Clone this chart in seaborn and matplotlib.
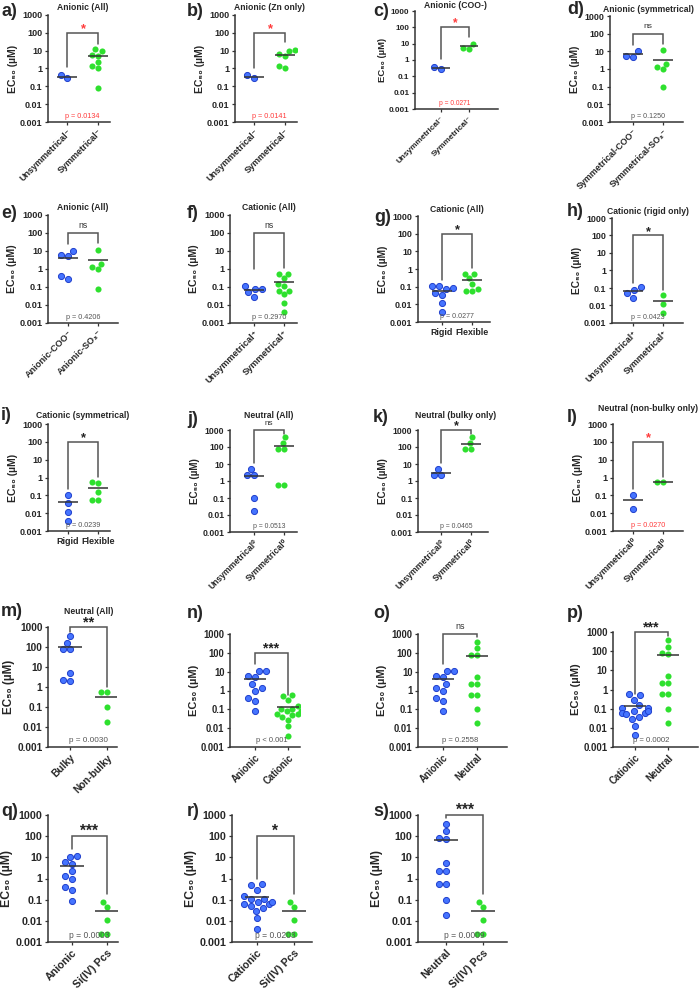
import matplotlib
matplotlib.use("Agg")
import matplotlib.pyplot as plt
import seaborn as sns
from matplotlib.ticker import NullLocator

sns.set_theme(style="ticks")
plt.rcParams["font.family"] = ["Liberation Sans", "DejaVu Sans"]

BLUE = "#4574ff"
BLUE_EDGE = "#1f3fcc"
GREEN = "#2ee02e"
RED = "#ff3b3b"
GREY = "#555555"
DARK = "#333333"

YTICKS = [0.001, 0.01, 0.1, 1, 10, 100, 1000]
YTICK_LABELS = ["0.001", "0.01", "0.1", "1", "10", "100", "1000"]

# ---- EC50 values (uM) ----
A_UNSYM = [0.44, 0.28]
A_SYM = [5.2, 5.8, 12, 10, 2.2, 1.35, 1.0, 0.085]
B_UNSYM = [0.42, 0.28]
B_SYM = [10, 6.5, 5.2, 11.5, 1.3, 1.0]
C_UNSYM = [0.39, 0.29]
C_SYM = [10, 5.1, 5.0]
D_COO = [10, 5.7, 5.0]
D_SO3 = [11.5, 2.0, 1.35, 1.0, 0.09]
E_COO = [10, 6, 5, 0.42, 0.29]
E_SO3 = [11, 2, 1.3, 1.0, 0.08]
F_UNSYM = [0.11, 0.077, 0.077, 0.05, 0.028]
F_SYM = [0.55, 0.5, 0.3, 0.15, 0.11, 0.06, 0.06, 0.039, 0.013, 0.004]
G_RIGID = [0.11, 0.11, 0.085, 0.077, 0.046, 0.035, 0.012, 0.0037]
G_FLEX = [0.5, 0.55, 0.3, 0.15, 0.07, 0.055, 0.055]
H_UNSYM = [0.11, 0.08, 0.05, 0.027]
H_SYM = [0.038, 0.013, 0.0035]
I_RIGID = [0.1, 0.035, 0.012, 0.0035]
I_FLEX = [0.5, 0.55, 0.15, 0.057, 0.057]
J_UNSYM = [5.3, 2.3, 2.2, 0.1, 0.018]
J_SYM = [370, 170, 80, 75, 0.58, 0.58]
K_UNSYM = [5.3, 2.2, 2.2]
K_SYM = [370, 170, 80, 75]
L_UNSYM = [0.1, 0.017]
L_SYM = [0.55, 0.55]
M_BULKY = [340, 160, 76, 76, 5, 2.2, 2.0]
M_NONBULKY = [0.55, 0.55, 0.1, 0.017]
ANIONIC = [11.5, 10.5, 6, 5, 2.2, 1.3, 1.0, 0.4, 0.28, 0.085]
CATIONIC = [0.55, 0.5, 0.3, 0.15, 0.11, 0.06, 0.06, 0.039, 0.013, 0.004,
            0.11, 0.077, 0.077, 0.05, 0.028]
NEUTRAL = [370, 170, 80, 75, 5.3, 2.3, 2.2, 0.58, 0.58, 0.1, 0.018]
SI_PCS = [0.078, 0.045, 0.011, 0.0025, 0.0025]

# group means drawn as lines
MEANS = {
    "a": (0.34, 4.8), "b": (0.34, 5.9), "c": (0.32, 6.9), "d": (7.0, 3.2),
    "e": (4.3, 3.2), "f": (0.065, 0.18), "g": (0.055, 0.23), "h": (0.067, 0.018),
    "i": (0.04, 0.25), "j": (1.9, 115), "k": (3.0, 160), "l": (0.057, 0.55),
    "m": (100, 0.3), "n": (3.9, 0.14), "o": (3.9, 65), "p": (0.14, 65),
    "q": (3.9, 0.03), "r": (0.14, 0.03), "s": (65, 0.03),
}

# significance bracket: (top, left leg end, right leg end)
BRACKETS = {
    "a": (100, 1.2, 25), "b": (100, 1.1, 30), "c": (100, 1.1, 27),
    "d": (100, 22, 27), "e": (100, 26, 28), "f": (100, 1.0, 1.2),
    "g": (100, 0.23, 1.1), "h": (100, 0.2, 0.08), "i": (100, 0.24, 1.1),
    "j": (1000, 11, 600), "k": (1000, 11, 600), "l": (100, 0.24, 1.1),
    "m": (1000, 540, 1.0), "n": (100, 27, 0.55), "o": (1000, 27, 700),
    "p": (1000, 0.55, 600), "q": (100, 26, 0.18), "r": (100, 1.0, 0.18),
    "s": (1000, 700, 0.18),
}

UNSYM_AN = ["Unsymmetrical\u207b", "Symmetrical\u207b"]
UNSYM_CAT = ["Unsymmetrical\u207a", "Symmetrical\u207a"]
UNSYM_NEU = ["Unsymmetrical\u2070", "Symmetrical\u2070"]

PANELS = [
    ("a", "Anionic (All)", UNSYM_AN, A_UNSYM, A_SYM, "*", "p = 0.0134", True),
    ("b", "Anionic (Zn only)", UNSYM_AN, B_UNSYM, B_SYM, "*", "p = 0.0141", True),
    ("c", "Anionic (COO-)", UNSYM_AN, C_UNSYM, C_SYM, "*", "p = 0.0271", True),
    ("d", "Anionic (symmetrical)", ["Symmetrical-COO\u207b", "Symmetrical-SO\u2083\u207b"],
     D_COO, D_SO3, "ns", "p = 0.1250", False),
    ("e", "Anionic (All)", ["Anionic-COO\u207b", "Anionic-SO\u2083\u207b"],
     E_COO, E_SO3, "ns", "p = 0.4206", False),
    ("f", "Cationic (All)", UNSYM_CAT, F_UNSYM, F_SYM, "ns", "p = 0.2970", False),
    ("g", "Cationic (All)", ["Rigid", "Flexible"], G_RIGID, G_FLEX, "*", "p = 0.0277", False),
    ("h", "Cationic (rigid only)", UNSYM_CAT, H_UNSYM, H_SYM, "*", "p = 0.0423", False),
    ("i", "Cationic (symmetrical)", ["Rigid", "Flexible"], I_RIGID, I_FLEX, "*", "p = 0.0239", False),
    ("j", "Neutral (All)", UNSYM_NEU, J_UNSYM, J_SYM, "ns", "p = 0.0513", False),
    ("k", "Neutral (bulky only)", UNSYM_NEU, K_UNSYM, K_SYM, "*", "p = 0.0465", False),
    ("l", "Neutral (non-bulky only)", UNSYM_NEU, L_UNSYM, L_SYM, "*", "p = 0.0270", True),
    ("m", "Neutral (All)", ["Bulky", "Non-bulky"], M_BULKY, M_NONBULKY, "**", "p = 0.0030", False),
    ("n", "", ["Anionic", "Cationic"], ANIONIC, CATIONIC, "***", "p < 0.001", False),
    ("o", "", ["Anionic", "Neutral"], ANIONIC, NEUTRAL, "ns", "p = 0.2558", False),
    ("p", "", ["Cationic", "Neutral"], CATIONIC, NEUTRAL, "***", "p = 0.0002", False),
    ("q", "", ["Anionic", "Si(IV) Pcs"], ANIONIC, SI_PCS, "***", "p = 0.0003", False),
    ("r", "", ["Cationic", "Si(IV) Pcs"], CATIONIC, SI_PCS, "*", "p = 0.0203", False),
    ("s", "", ["Neutral", "Si(IV) Pcs"], NEUTRAL, SI_PCS, "***", "p = 0.0009", False),
]

# layout in pixels: axes left, top, right, bottom, x of category 0, x of category 1
LAYOUT = {
    "a": (48, 15, 110, 122, 67, 98), "b": (235, 15, 297, 122, 254, 285),
    "c": (415, 11, 498, 109, 441, 469), "d": (610, 16, 683, 122, 633, 663),
    "e": (48, 215, 118, 323, 68, 98), "f": (230, 215, 297, 323, 254, 284),
    "g": (418, 216, 490, 322, 442, 472), "h": (612, 218, 683, 323, 633, 663),
    "i": (48, 424, 110, 531, 68, 98), "j": (230, 430, 297, 532, 254, 284),
    "k": (418, 430, 488, 532, 441, 471), "l": (613, 424, 683, 531, 633, 663),
    "m": (48, 627, 117, 747, 70, 107), "n": (230, 634, 300, 747, 255, 288),
    "o": (418, 634, 507, 747, 443, 477), "p": (613, 632, 698, 747, 635, 668),
    "q": (48, 815, 118, 942, 72, 107), "r": (232, 815, 312, 942, 257, 294),
    "s": (418, 815, 507, 942, 446, 483),
}
LETTER_POS = {
    "a": (1, 12), "b": (187, 12), "c": (373, 11), "d": (567, 9),
    "e": (1, 214), "f": (187, 214), "g": (374, 217), "h": (567, 212),
    "i": (1, 416), "j": (187, 419), "k": (373, 417), "l": (567, 417),
    "m": (1, 612), "n": (187, 613), "o": (373, 613), "p": (567, 613),
    "q": (1, 811), "r": (187, 811), "s": (373, 811),
}
TITLE_Y = {"a": 7, "b": 7, "c": 5, "d": 9, "e": 208, "f": 208, "g": 209, "h": 212,
           "i": 416, "j": 415, "k": 415, "l": 408, "m": 611}

W, H = 700, 988
fig = plt.figure(figsize=(7, 9.88), dpi=100)

for key, title, labels, left_vals, right_vals, star, ptext, red in PANELS:
    L, T, R, B, c0, c1 = LAYOUT[key]
    ax = fig.add_axes([L / W, 1 - B / H, (R - L) / W, (B - T) / H])
    fs = (B - T) / 16.5

    sns.swarmplot(x=[labels[0]] * len(left_vals), y=left_vals, order=labels,
                  color=BLUE, edgecolor=BLUE_EDGE, linewidth=0.7, size=4.4,
                  log_scale=True, ax=ax, zorder=3)
    sns.swarmplot(x=[labels[1]] * len(right_vals), y=right_vals, order=labels,
                  color=GREEN, linewidth=0, size=4.4, log_scale=True, ax=ax, zorder=3)

    for i, m in enumerate(MEANS[key]):
        ax.hlines(m, i - 0.33, i + 0.33, color=DARK, lw=1.1, zorder=5)

    top, lb, rb = BRACKETS[key]
    ax.plot([0, 0, 1, 1], [lb, top, top, rb], color=GREY, lw=1.1,
            clip_on=False, solid_joinstyle="miter")
    if star == "ns":
        ax.annotate("ns", xy=(0.5, top), xytext=(0, 2.5), textcoords="offset points",
                    ha="center", va="bottom", fontsize=fs * 0.95, color="#333333",
                    annotation_clip=False)
    else:
        ax.annotate(star, xy=(0.5, top), xytext=(0, 0.5), textcoords="offset points",
                    ha="center", va="baseline", fontsize=fs * 1.45, fontweight="bold",
                    color=RED if red else "#222222", annotation_clip=False)
    ax.text(0.5, 0.0021, ptext, ha="center", va="center", fontsize=fs * 0.8,
            color=RED if red else GREY)

    ax.set_ylim(0.001, 1000)
    ax.set_yticks(YTICKS)
    ax.set_yticklabels(YTICK_LABELS, fontsize=fs, fontweight="bold")
    ax.yaxis.set_minor_locator(NullLocator())
    ax.set_xlim((L - c0) / (c1 - c0), (R - c0) / (c1 - c0))
    ax.set_xticks([0, 1])
    if labels[0] == "Rigid":
        ax.set_xticklabels(labels, fontsize=fs, fontweight="bold")
    else:
        ax.set_xticklabels(labels, rotation=45, ha="right", rotation_mode="anchor",
                           fontsize=fs, fontweight="bold")
    ax.set_xlabel("")
    ax.set_ylabel("EC\u2085\u2080 (\u00b5M)", fontsize=fs * 1.15, fontweight="bold",
                  labelpad=1.5)
    ax.tick_params(axis="both", length=2.5, width=0.9, pad=1.5, color=DARK)
    sns.despine(ax=ax)
    for side in ("left", "bottom"):
        ax.spines[side].set_linewidth(1.1)
        ax.spines[side].set_color(DARK)

    if title:
        fig.text((c0 + c1) / 2 / W, 1 - TITLE_Y[key] / H, title, ha="center",
                 va="center", fontsize=6.2, fontweight="bold")
    lx, ly = LETTER_POS[key]
    fig.text(lx / W, 1 - ly / H, key + ")", ha="left", va="center",
             fontsize=13, fontweight="bold")

fig.savefig("out.png", dpi=100, facecolor="white")
